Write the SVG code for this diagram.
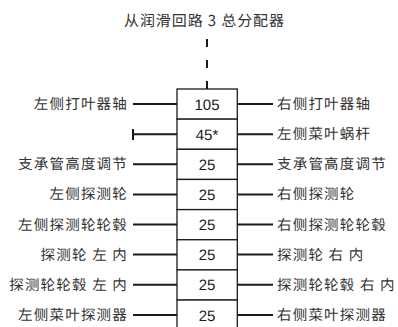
<svg xmlns="http://www.w3.org/2000/svg" width="398" height="327" viewBox="0 0 398 327">
<style>
text{text-rendering:geometricPrecision}
.lbl{font-family:"Noto Sans CJK SC","Noto Sans",sans-serif;font-size:14.5px;fill:#333;letter-spacing:1.2px}
.l{text-anchor:end}
.num{font-family:"Liberation Sans",Arial,sans-serif;font-size:15px;fill:#1a1a1a;text-anchor:middle}
.cell{fill:#fff;stroke:#1a1a1a;stroke-width:1.3}
.con{stroke:#1a1a1a;stroke-width:2;fill:none}
</style>
<rect width="398" height="327" fill="#fff"/>
<g id="title">
<text class="lbl" x="204.5" y="26" style="text-anchor:middle;letter-spacing:0.9px;font-size:15px">从润滑回路 3 总分配器</text>
</g>
<g id="box">
<g id="row105"><rect class="cell" x="177" y="89" width="60.3" height="30.15"/><text class="num" x="207" y="109.5">105</text></g>
<g id="row45"><rect class="cell" x="177" y="119.15" width="60.3" height="30.15"/><text class="num" x="207" y="139.7">45*</text></g>
<g id="row25a"><rect class="cell" x="177" y="149.3" width="60.3" height="30.15"/><text class="num" x="207" y="169.8">25</text></g>
<g id="row25b"><rect class="cell" x="177" y="179.45" width="60.3" height="30.15"/><text class="num" x="207" y="200">25</text></g>
<g id="row25c"><rect class="cell" x="177" y="209.6" width="60.3" height="30.15"/><text class="num" x="207" y="230.1">25</text></g>
<g id="row25d"><rect class="cell" x="177" y="239.75" width="60.3" height="30.15"/><text class="num" x="207" y="260.3">25</text></g>
<g id="row25e"><rect class="cell" x="177" y="269.9" width="60.3" height="30.15"/><text class="num" x="207" y="290.4">25</text></g>
<g id="row25f"><rect class="cell" x="177" y="300.05" width="60.3" height="40"/><text class="num" x="207" y="320.6">25</text></g>
</g>
<g id="connectors">
<line class="con" x1="207" y1="39" x2="207" y2="89" stroke-dasharray="8 13"/>
<line class="con" x1="133" y1="104" x2="177" y2="104"/>
<line class="con" x1="133" y1="134.2" x2="177" y2="134.2"/>
<line class="con" x1="133" y1="129" x2="133" y2="140" stroke="#555"/>
<line class="con" x1="133" y1="164.3" x2="177" y2="164.3"/>
<line class="con" x1="133" y1="194.4" x2="177" y2="194.4"/>
<line class="con" x1="133" y1="224.5" x2="177" y2="224.5"/>
<line class="con" x1="133" y1="254.6" x2="177" y2="254.6"/>
<line class="con" x1="133" y1="284.8" x2="177" y2="284.8"/>
<line class="con" x1="133" y1="315" x2="177" y2="315"/>
<line class="con" x1="237.3" y1="104" x2="273" y2="104"/>
<line class="con" x1="237.3" y1="134.2" x2="273" y2="134.2"/>
<line class="con" x1="237.3" y1="164.3" x2="273" y2="164.3"/>
<line class="con" x1="237.3" y1="194.4" x2="273" y2="194.4"/>
<line class="con" x1="237.3" y1="224.5" x2="273" y2="224.5"/>
<line class="con" x1="237.3" y1="254.6" x2="273" y2="254.6"/>
<line class="con" x1="237.3" y1="284.8" x2="273" y2="284.8"/>
<line class="con" x1="237.3" y1="315" x2="273" y2="315"/>
</g>
<g id="labels-left">
<text class="lbl l" x="128" y="109">左侧打叶器轴</text>
<text class="lbl l" x="128" y="169.3">支承管高度调节</text>
<text class="lbl l" x="128" y="199.4">左侧探测轮</text>
<text class="lbl l" x="128" y="229.5">左侧探测轮轮毂</text>
<text class="lbl l" x="128" y="259.6">探测轮 左 内</text>
<text class="lbl l" x="128" y="289.8">探测轮轮毂 左 内</text>
<text class="lbl l" x="128" y="320">左侧菜叶探测器</text>
</g>
<g id="labels-right">
<text class="lbl" x="277" y="109">右侧打叶器轴</text>
<text class="lbl" x="277" y="139.2">左侧菜叶蜗杆</text>
<text class="lbl" x="277" y="169.3">支承管高度调节</text>
<text class="lbl" x="277" y="199.4">右侧探测轮</text>
<text class="lbl" x="277" y="229.5">右侧探测轮轮毂</text>
<text class="lbl" x="277" y="259.6">探测轮 右 内</text>
<text class="lbl" x="277" y="289.8">探测轮轮毂 右 内</text>
<text class="lbl" x="277" y="320">右侧菜叶探测器</text>
</g>
</svg>
